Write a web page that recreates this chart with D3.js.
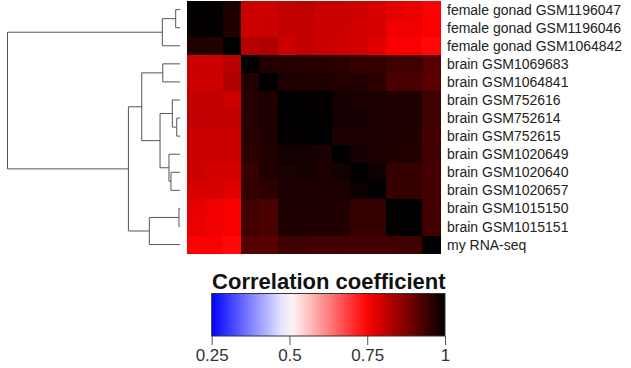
<!DOCTYPE html>
<html>
<head>
<meta charset="utf-8">
<script src="https://cdn.jsdelivr.net/npm/d3@7"></script>
<style>
  html, body { margin: 0; padding: 0; background: #fff; }
  svg { display: block; font-family: "Liberation Sans", Arial, Helvetica, sans-serif; }
</style>
</head>
<body>
<svg id="chart" width="631" height="368"></svg>
<script>
// ---- data ----
const samples = [
  "female gonad GSM1196047",
  "female gonad GSM1196046",
  "female gonad GSM1064842",
  "brain GSM1069683",
  "brain GSM1064841",
  "brain GSM752616",
  "brain GSM752614",
  "brain GSM752615",
  "brain GSM1020649",
  "brain GSM1020640",
  "brain GSM1020657",
  "brain GSM1015150",
  "brain GSM1015151",
  "my RNA-seq"
];

// correlation matrix, rows/cols in the order of `samples`
const corr = [
  [1.000, 0.995, 0.971, 0.799, 0.799, 0.809, 0.814, 0.804, 0.804, 0.799, 0.789, 0.775, 0.770, 0.751],
  [0.995, 1.000, 0.966, 0.799, 0.799, 0.809, 0.809, 0.804, 0.799, 0.794, 0.789, 0.765, 0.765, 0.753],
  [0.971, 0.966, 1.000, 0.819, 0.828, 0.799, 0.809, 0.804, 0.799, 0.794, 0.779, 0.756, 0.756, 0.742],
  [0.799, 0.799, 0.819, 1.000, 0.966, 0.963, 0.963, 0.961, 0.956, 0.946, 0.946, 0.939, 0.936, 0.917],
  [0.799, 0.799, 0.828, 0.966, 1.000, 0.971, 0.971, 0.971, 0.966, 0.966, 0.956, 0.926, 0.926, 0.914],
  [0.809, 0.809, 0.799, 0.963, 0.971, 1.000, 0.995, 0.995, 0.980, 0.975, 0.975, 0.971, 0.971, 0.939],
  [0.814, 0.809, 0.809, 0.963, 0.971, 0.995, 1.000, 0.997, 0.980, 0.980, 0.975, 0.971, 0.971, 0.939],
  [0.804, 0.804, 0.804, 0.961, 0.971, 0.995, 0.997, 1.000, 0.975, 0.973, 0.973, 0.969, 0.968, 0.933],
  [0.804, 0.799, 0.799, 0.956, 0.966, 0.980, 0.980, 0.975, 1.000, 0.980, 0.975, 0.966, 0.966, 0.936],
  [0.799, 0.794, 0.794, 0.946, 0.966, 0.975, 0.980, 0.973, 0.980, 1.000, 0.985, 0.946, 0.946, 0.933],
  [0.789, 0.789, 0.779, 0.946, 0.956, 0.975, 0.975, 0.973, 0.975, 0.985, 1.000, 0.946, 0.946, 0.933],
  [0.775, 0.765, 0.756, 0.939, 0.926, 0.971, 0.971, 0.969, 0.966, 0.946, 0.946, 1.000, 0.997, 0.936],
  [0.770, 0.765, 0.756, 0.936, 0.926, 0.971, 0.971, 0.968, 0.966, 0.946, 0.946, 0.997, 1.000, 0.936],
  [0.751, 0.753, 0.742, 0.917, 0.914, 0.939, 0.939, 0.933, 0.936, 0.933, 0.933, 0.936, 0.936, 1.000]
];

// hierarchical clustering merges (R hclust style): negative = leaf (1-based), positive = earlier merge (1-based)
const mergePairs = [
  [-12, -13], [-7, -8], [-1, -2], [-6, 2], [-10, -11], [-9, 5], [-4, -5],
  [3, -3], [4, 6], [1, -14], [7, 9], [11, 10], [8, 12]
];
const mergeHeights = [0.0013, 0.0041, 0.0054, 0.0096, 0.0113, 0.0138, 0.0216,
  0.0221, 0.025, 0.0384, 0.0479, 0.0646, 0.216];

const colorStops = [0.25, 0.5, 0.75, 1];
const colorRange = ["#0000ff", "#ffffff", "#ff0000", "#000000"];
const legendTicks = [0.25, 0.5, 0.75, 1];
const legendTitle = "Correlation coefficient";

// ---- drawing ----
const svg = d3.select("#chart");
const idx = d3.range(samples.length);

const x = d3.scaleBand().domain(idx).range([187.2, 440.2]).padding(0);
const y = d3.scaleBand().domain(idx).range([0.6, 253.6]).padding(0);
const color = d3.scaleLinear().domain(colorStops).range(colorRange).clamp(true);

// heatmap
const cells = [];
idx.forEach(r => idx.forEach(c => cells.push({ r, c, v: corr[r][c] })));
svg.append("g").attr("shape-rendering", "crispEdges")
  .selectAll("rect").data(cells).join("rect")
  .attr("x", d => x(d.c))
  .attr("y", d => y(d.r))
  .attr("width", x.bandwidth() + 0.5)
  .attr("height", y.bandwidth() + 0.5)
  .attr("fill", d => color(d.v));

// row labels
svg.append("g").selectAll("text").data(idx).join("text")
  .attr("x", 447)
  .attr("y", d => y(d) + y.bandwidth() / 2)
  .attr("dy", "0.36em")
  .attr("font-size", 14)
  .attr("fill", "#222")
  .text(d => samples[d]);

// dendrogram
const hx = d3.scaleLinear().domain([0, d3.max(mergeHeights)]).range([180, 7.5]);
const nodeY = [], nodeH = [];
function childInfo(k) {
  if (k < 0) { const i = -k - 1; return { y: y(i) + y.bandwidth() / 2, h: 0 }; }
  return { y: nodeY[k - 1], h: nodeH[k - 1] };
}
const segs = [];
mergePairs.forEach((p, i) => {
  const a = childInfo(p[0]), b = childInfo(p[1]);
  const h = mergeHeights[i];
  nodeY[i] = (a.y + b.y) / 2;
  nodeH[i] = h;
  segs.push([hx(h), a.y, hx(h), b.y]);
  segs.push([hx(h), a.y, hx(a.h), a.y]);
  segs.push([hx(h), b.y, hx(b.h), b.y]);
});
svg.append("g").selectAll("line").data(segs).join("line")
  .attr("x1", d => d[0]).attr("y1", d => d[1])
  .attr("x2", d => d[2]).attr("y2", d => d[3])
  .attr("stroke", "#555").attr("stroke-width", 1);

// legend
const lx = d3.scaleLinear().domain([0.25, 1]).range([211.7, 445]);
const defs = svg.append("defs");
const grad = defs.append("linearGradient").attr("id", "lg")
  .attr("x1", "0%").attr("x2", "100%").attr("y1", "0%").attr("y2", "0%");
d3.range(0, 1.0001, 0.05).forEach(t => {
  const v = 0.25 + t * 0.75;
  grad.append("stop").attr("offset", (t * 100) + "%").attr("stop-color", color(v));
});
svg.append("rect")
  .attr("x", lx(0.25)).attr("y", 293.5)
  .attr("width", lx(1) - lx(0.25)).attr("height", 42.5)
  .attr("fill", "url(#lg)")
  .attr("stroke", "#333").attr("stroke-width", 1);

const axis = d3.axisBottom(lx).tickValues(legendTicks).tickSize(9).tickPadding(4)
  .tickFormat(d3.format("~g"));
const ag = svg.append("g").attr("transform", "translate(0,336)").call(axis);
ag.select(".domain").remove();
ag.selectAll(".tick line").attr("stroke", "#555");
ag.selectAll(".tick text").attr("font-size", 17).attr("fill", "#333")
  .attr("font-family", "'Liberation Sans', Arial, sans-serif");

svg.append("text")
  .attr("x", (lx(0.25) + lx(1)) / 2 + 0.5)
  .attr("y", 289)
  .attr("text-anchor", "middle")
  .attr("font-size", 22)
  .attr("font-weight", "bold")
  .attr("fill", "#111")
  .text(legendTitle);
</script>
</body>
</html>
